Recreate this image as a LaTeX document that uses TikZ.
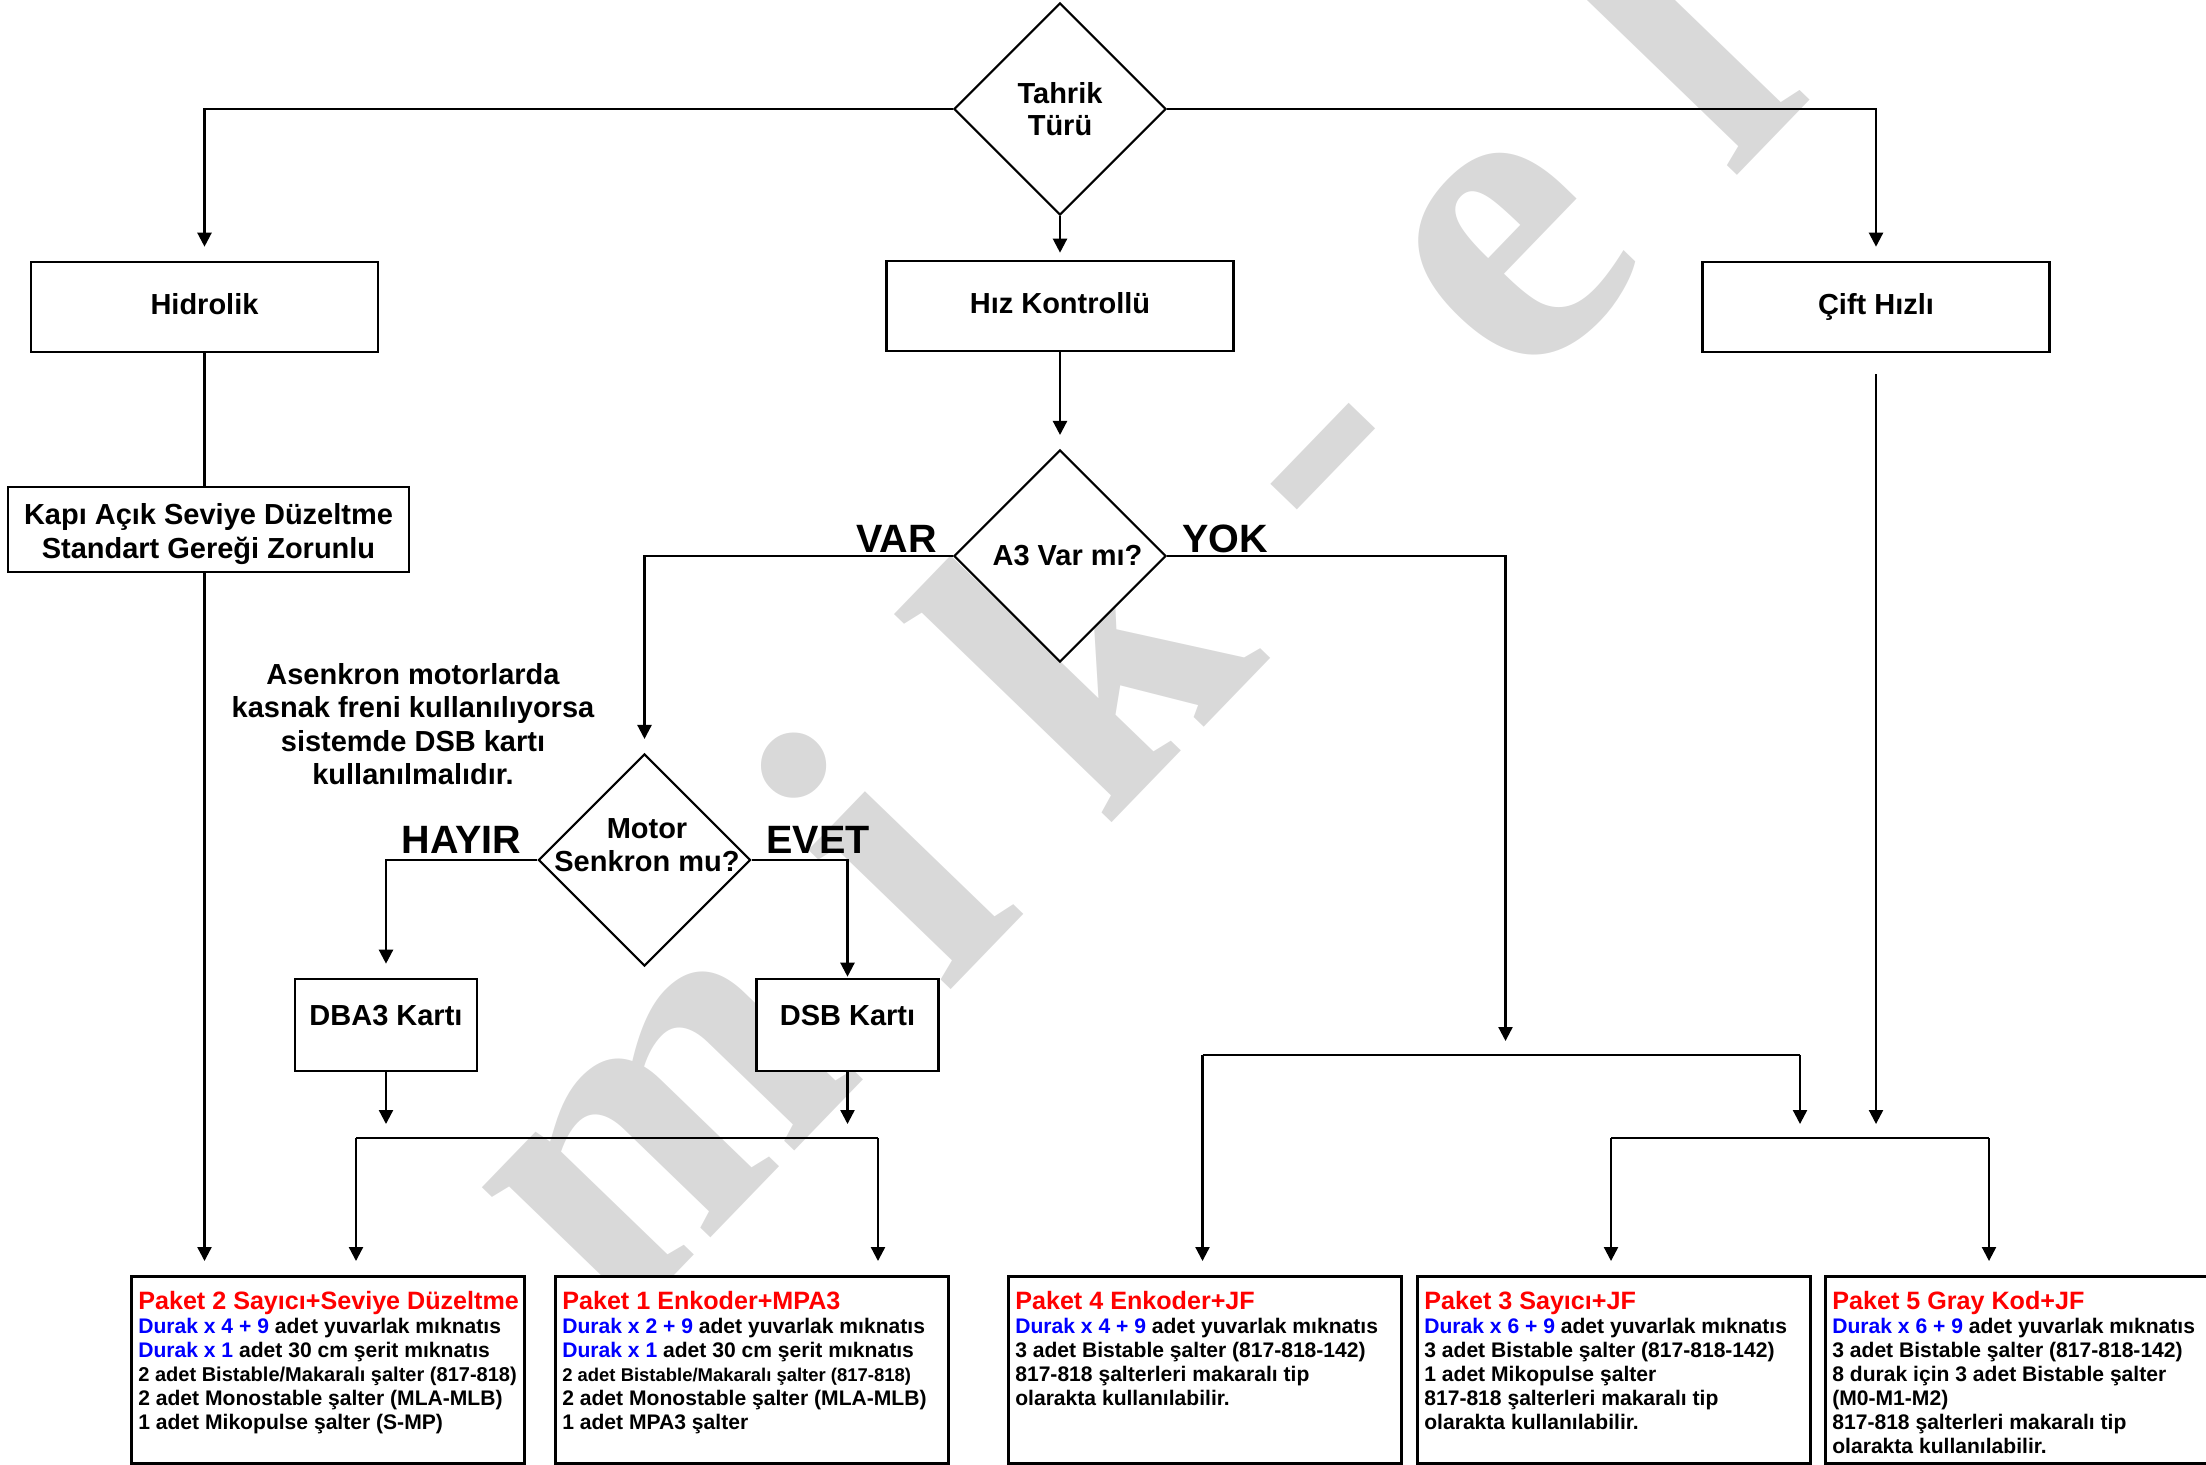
\documentclass[tikz,border=0pt]{standalone}
\usepackage{fontspec}
\setmainfont{Liberation Sans}
\newfontfamily\wmfont{Liberation Serif}
\usetikzlibrary{positioning,shapes.geometric,arrows.meta}

\newcommand{\mavi}[1]{\textcolor{blue}{#1}}
\newcommand{\baslik}[1]{\mbox{\fontsize{14.3}{13.7}\selectfont\color{red}#1}}

\tikzset{
  kutu/.style={rectangle, draw, fill=white, line width=1.5pt, minimum width=6.94cm, minimum height=1.8cm, text height=0.55cm, text depth=0.25cm, font=\fontsize{16.5}{19.5}\selectfont\bfseries},
  kart/.style={kutu, minimum width=3.64cm, minimum height=1.84cm, text height=0.4cm, text depth=0.38cm},
  uyari/.style={rectangle, draw, fill=white, line width=1.5pt, minimum width=8.02cm, minimum height=1.7cm},
  karar/.style={diamond, draw, fill=white, line width=1.2pt, aspect=1, inner sep=-0.4cm, minimum width=4.24cm, minimum height=4.24cm, align=center, font=\fontsize{16.5}{18.5}\selectfont\bfseries},
  yazi/.style={align=center, inner sep=0pt, font=\fontsize{16.5}{18.5}\selectfont\bfseries},
  paket/.style={rectangle, draw, fill=white, line width=1.5pt, anchor=north west, inner xsep=0.14cm, inner ysep=0.29cm, font=\fontsize{12}{13.7}\selectfont\bfseries},
  cevap/.style={inner sep=0pt, font=\fontsize{22.5}{24}\selectfont\bfseries},
  aciklama/.style={align=center, font=\fontsize{16.5}{19}\selectfont\bfseries},
  filigran/.style={rotate=46, inner sep=0pt, text=black!15, font=\wmfont\bfseries\fontsize{247}{247}\selectfont},
  ok/.style={-{Triangle[width=0.28cm,length=0.28cm]}, line width=1.3pt, shorten >=0.28cm},
  hat/.style={line width=1.3pt},
  bar/.style={line width=1.6pt},
}

\begin{document}
\begin{tikzpicture}[x=0.02cm, y=-0.02cm]
\useasboundingbox (0,0) rectangle (2206,1464);

% filigran
\node[filigran] (mikel) at (1109.4,611.2) {m i k - e l};

% tahrik turu
\node[karar] (tahrik) at (1060,109) {Tahrik\\Türü};
\node[kutu] (hidrolik) at (204.5,307) {Hidrolik};
\node[kutu] (hiz) at (1060,306) {Hız Kontrollü};
\node[kutu] (cift) at (1876,307) {Çift Hızlı};
\node[uyari] (kapi) at (208.5,529.5) {};
\node[yazi, font=\fontsize{16.5}{19.5}\selectfont\bfseries] (kapiyazi) at (208.5,534) {Kapı Açık Seviye Düzeltme\\Standart Gereği Zorunlu};

% A3
\node[karar] (a3) at (1060,556) {\hspace*{0.3cm}A3 Var mı?};
\node[cevap, anchor=base east] (var) at (937,552) {VAR};
\node[cevap, anchor=base west] (yok) at (1182,552) {YOK};

% motor
\node[aciklama] (asenkron) at (413,724) {Asenkron motorlarda\\kasnak freni kullanılıyorsa\\sistemde DSB kartı\\kullanılmalıdır.};
\node[karar] (motor) at (644.5,860) {};
\node[yazi] (motoryazi) at (647,845) {Motor\\Senkron mu?};
\node[cevap, anchor=base east] (hayir) at (521.5,853) {HAYIR};
\node[cevap, anchor=base west] (evet) at (766,853) {EVET};
\node[kart] (dba3) at (386,1025) {DBA3 Kartı};
\node[kart] (dsb) at (847.5,1025) {DSB Kartı};

% paketler
\node[paket] (p2) at (130,1275) {\parbox[c][3.16cm][t]{7.58cm}{\baslik{Paket 2 Sayıcı+Seviye Düzeltme}\\
  \mavi{Durak x 4 + 9} adet yuvarlak mıknatıs\\
  \mavi{Durak x 1} adet 30 cm şerit mıknatıs\\
  {\fontsize{11.4}{13.7}\selectfont 2 adet Bistable/Makaralı şalter (817-818)}\\
  2 adet Monostable şalter (MLA-MLB)\\
  1 adet Mikopulse şalter (S-MP)}};
\node[paket] (p1) at (554,1275) {\parbox[c][3.16cm][t]{7.58cm}{\baslik{Paket 1 Enkoder+MPA3}\\
  \mavi{Durak x 2 + 9} adet yuvarlak mıknatıs\\
  \mavi{Durak x 1} adet 30 cm şerit mıknatıs\\
  {\fontsize{10.5}{13.7}\selectfont 2 adet Bistable/Makaralı şalter (817-818)}\\
  2 adet Monostable şalter (MLA-MLB)\\
  1 adet MPA3 şalter}};
\node[paket] (p4) at (1007,1275) {\parbox[c][3.16cm][t]{7.58cm}{\baslik{Paket 4 Enkoder+JF}\\
  \mavi{Durak x 4 + 9} adet yuvarlak mıknatıs\\
  3 adet Bistable şalter (817-818-142)\\
  817-818 şalterleri makaralı tip\\
  olarakta kullanılabilir.}};
\node[paket] (p3) at (1416,1275) {\parbox[c][3.16cm][t]{7.58cm}{\baslik{Paket 3 Sayıcı+JF}\\
  \mavi{Durak x 6 + 9} adet yuvarlak mıknatıs\\
  3 adet Bistable şalter (817-818-142)\\
  1 adet Mikopulse şalter\\
  817-818 şalterleri makaralı tip\\
  olarakta kullanılabilir.}};
\node[paket] (p5) at (1824,1275) {\parbox[c][3.16cm][t]{7.58cm}{\baslik{Paket 5 Gray Kod+JF}\\
  \mavi{Durak x 6 + 9} adet yuvarlak mıknatıs\\
  3 adet Bistable şalter (817-818-142)\\
  8 durak için 3 adet Bistable şalter\\
  (M0-M1-M2)\\
  817-818 şalterleri makaralı tip\\
  olarakta kullanılabilir.}};

% baglantilar
\coordinate (solbar1) at (356,1138);
\coordinate (solbar2) at (878,1138);
\coordinate (yokok) at (1505.5,1055);
\coordinate (yok1) at (1202.5,1055);
\coordinate (yok2) at (1800,1055);
\coordinate (sag1) at (1611,1138);
\coordinate (sag2) at (1989,1138);

\draw[ok] (tahrik.west) -| (hidrolik.north);
\draw[ok] (tahrik.east) -| (cift.north);
\draw[ok, shorten >=0.14cm] (tahrik.south) -- (hiz.north);
\draw[ok] (hiz.south) -- (a3.north);
\draw[hat] (hidrolik.south) -- (kapi.north -| hidrolik.south);
\draw[ok] (kapi.south -| hidrolik.south) -- (p2.north -| hidrolik.south);

\draw[ok] (a3.west) -| (motor.north);
\draw[ok] (motor.west) -| (dba3.north);
\draw[ok, shorten >=0.02cm] (motor.east) -| (dsb.north);
\draw[ok] (dba3.south) -- (dba3.south |- solbar1);
\draw[ok] (dsb.south) -- (dsb.south |- solbar1);
\draw[bar] (solbar1) -- (solbar2);
\draw[ok] (solbar1) -- (solbar1 |- p2.north);
\draw[ok] (solbar2) -- (solbar2 |- p1.north);

\draw[ok] (a3.east) -| (yokok);
\draw[bar] (yok1) -- (yok2);
\draw[ok] (yok1) -- (yok1 |- p4.north);
\draw[ok] (yok2) -- (yok2 |- sag1);
\draw[ok, shorten <=0.42cm] (cift.south) -- (cift.south |- sag1);
\draw[bar] (sag1) -- (sag2);
\draw[ok] (sag1) -- (sag1 |- p3.north);
\draw[ok] (sag2) -- (sag2 |- p5.north);
\end{tikzpicture}
\end{document}
